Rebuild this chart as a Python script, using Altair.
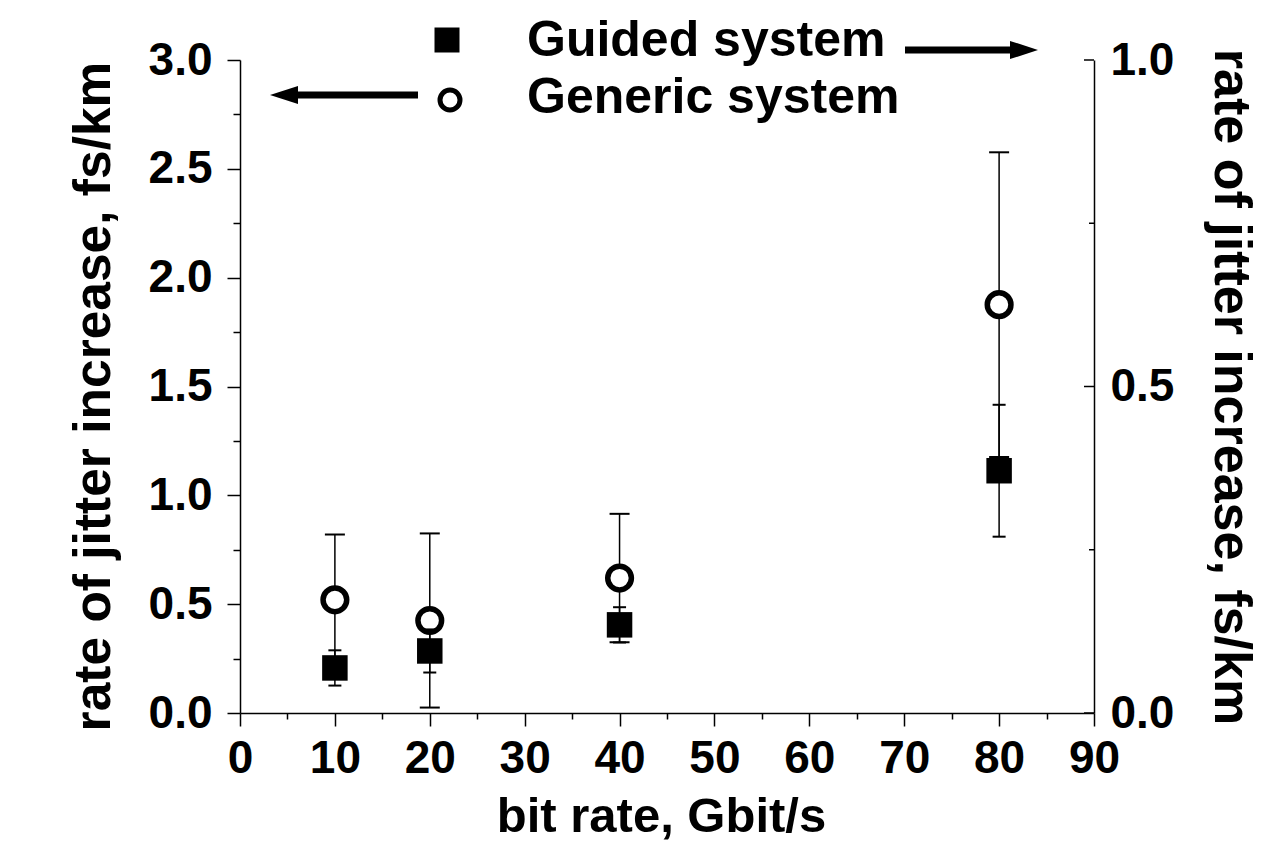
import altair as alt
import pandas as pd

# ---- data ----
bit_rate = [10, 20, 40, 80]
generic_rate = [0.52, 0.425, 0.62, 1.876]      # left axis, fs/km
generic_err = [0.30, 0.40, 0.295, 0.70]
guided_rate = [0.069, 0.095, 0.135, 0.371]     # right axis, fs/km
guided_err = [0.027, 0.033, 0.027, 0.101]

x_ticks = list(range(0, 95, 5))
left_ticks = [i * 0.25 for i in range(13)]
right_major = [0.0, 0.5, 1.0]
right_minor = [0.25, 0.75]
series_names = ["Guided system", "Generic system"]

W, H = 854, 653
FONT = "Liberation Sans"

gen = pd.DataFrame({
    "x": bit_rate,
    "y": generic_rate,
    "lo": [v - e for v, e in zip(generic_rate, generic_err)],
    "hi": [v + e for v, e in zip(generic_rate, generic_err)],
})
gui = pd.DataFrame({
    "x": bit_rate,
    "y": guided_rate,
    "lo": [v - e for v, e in zip(guided_rate, guided_err)],
    "hi": [v + e for v, e in zip(guided_rate, guided_err)],
})
rmaj = pd.DataFrame({"v": right_major})
rmin = pd.DataFrame({"v": right_minor})
leg = pd.DataFrame({"name": series_names})

x_axis = alt.Axis(
    values=x_ticks,
    title="bit rate, Gbit/s",
    titleX=421,
    labelExpr="datum.value % 10 == 0 ? datum.label : ''",
    tickSize={"condition": {"test": "datum.value % 10 == 0", "value": 13}, "value": 6},
    labelPadding=10,
    titlePadding=11,
    labelFlush=False,
    labelOverlap=False,
)
x_scale = alt.Scale(domain=[0, 90], nice=False, zero=False)


def X(field="x"):
    return alt.X(f"{field}:Q", scale=x_scale, axis=x_axis)


left_title = "rate of jitter increase, fs/km"
left_axis = alt.Axis(
    orient="left",
    values=left_ticks,
    title=left_title,
    titleFontSize=51.5,
    titleY=336,
    labelExpr="round(datum.value*4) % 2 == 0 ? format(datum.value, '.1f') : ''",
    tickSize={"condition": {"test": "round(datum.value*4) % 2 == 0", "value": 13}, "value": 7},
    labelPadding=15,
    titlePadding=28,
    labelFlush=False,
    labelOverlap=False,
)
left_scale = alt.Scale(domain=[0, 3], nice=False, zero=False)


def YL(field):
    return alt.Y(f"{field}:Q", scale=left_scale, axis=left_axis)


right_axis = alt.Axis(
    orient="right",
    values=right_major,
    format=".1f",
    title=left_title,
    titleFontSize=52,
    ticks=False,
    labelPadding=16,
    titlePadding=30,
    labelFlush=False,
    labelOverlap=False,
)
right_scale = alt.Scale(domain=[0, 1], nice=False, zero=False)


def YR(field):
    return alt.Y(f"{field}:Q", scale=right_scale, axis=right_axis)


# ---- generic system (left axis) ----
g_bar = alt.Chart(gen).mark_rule(color="black", strokeWidth=1.5).encode(
    x=X(), y=YL("lo"), y2="hi:Q")
g_cap_lo = alt.Chart(gen).mark_tick(orient="horizontal", size=20, thickness=2, color="black", opacity=1).encode(
    x=X(), y=YL("lo"))
g_cap_hi = alt.Chart(gen).mark_tick(orient="horizontal", size=20, thickness=2, color="black", opacity=1).encode(
    x=X(), y=YL("hi"))
g_pts = alt.Chart(gen).mark_point(shape="circle", size=560, filled=True, fill="white",
                                  stroke="black", strokeWidth=5.5, opacity=1).encode(
    x=X(), y=YL("y"))
left_layer = alt.layer(g_bar, g_cap_lo, g_cap_hi, g_pts)

# ---- guided system (right axis) ----
u_bar = alt.Chart(gui).mark_rule(color="black", strokeWidth=1.5).encode(
    x=X(), y=YR("lo"), y2="hi:Q")
u_cap_lo = alt.Chart(gui).mark_tick(orient="horizontal", size=13, thickness=2, color="black", opacity=1).encode(
    x=X(), y=YR("lo"))
u_cap_hi = alt.Chart(gui).mark_tick(orient="horizontal", size=13, thickness=2, color="black", opacity=1).encode(
    x=X(), y=YR("hi"))
u_pts = alt.Chart(gui).mark_point(shape="square", size=650, filled=True, color="black", opacity=1).encode(
    x=X(), y=YR("y"))
r_maj = alt.Chart(rmaj).mark_rule(color="black", strokeWidth=1.5).encode(
    y=YR("v"), x=alt.value(W - 10), x2=alt.value(W))
r_min = alt.Chart(rmin).mark_rule(color="black", strokeWidth=1.5).encode(
    y=YR("v"), x=alt.value(W - 5), x2=alt.value(W))

# ---- legend with arrows ----
leg_sq = alt.Chart(leg).transform_filter("datum.name == 'Guided system'").mark_point(
    shape="square", size=625, filled=True, color="black", opacity=1).encode(
    x=alt.value(207), y=alt.value(-20))
leg_ci = alt.Chart(leg).transform_filter("datum.name == 'Generic system'").mark_point(
    shape="circle", size=400, filled=True, fill="white", stroke="black", strokeWidth=5, opacity=1).encode(
    x=alt.value(210), y=alt.value(40))
leg_t1 = alt.Chart(leg).transform_filter("datum.name == 'Guided system'").mark_text(
    align="left", baseline="alphabetic", font=FONT, fontSize=50, fontWeight="bold", color="black").encode(
    text="name:N", x=alt.value(287), y=alt.value(-4))
leg_t2 = alt.Chart(leg).transform_filter("datum.name == 'Generic system'").mark_text(
    align="left", baseline="alphabetic", font=FONT, fontSize=50, fontWeight="bold", color="black").encode(
    text="name:N", x=alt.value(287), y=alt.value(53))
arr_r = alt.Chart(leg).transform_filter("datum.name == 'Guided system'").mark_rule(
    color="black", strokeWidth=7).encode(x=alt.value(665), x2=alt.value(784), y=alt.value(-10))
arr_rh = alt.Chart(leg).transform_filter("datum.name == 'Guided system'").mark_point(
    shape="M 1 0 L -1 -0.65 L -1 0.65 Z", size=784, filled=True, color="black", opacity=1).encode(
    x=alt.value(784), y=alt.value(-10))
arr_l = alt.Chart(leg).transform_filter("datum.name == 'Generic system'").mark_rule(
    color="black", strokeWidth=7).encode(x=alt.value(44), x2=alt.value(178), y=alt.value(35))
arr_lh = alt.Chart(leg).transform_filter("datum.name == 'Generic system'").mark_point(
    shape="M -1 0 L 1 -0.65 L 1 0.65 Z", size=784, filled=True, color="black", opacity=1).encode(
    x=alt.value(44), y=alt.value(35))

right_layer = alt.layer(u_bar, u_cap_lo, u_cap_hi, u_pts, r_maj, r_min,
                        leg_sq, leg_ci, leg_t1, leg_t2, arr_r, arr_rh, arr_l, arr_lh)

chart = alt.layer(left_layer, right_layer).resolve_scale(y="independent").properties(
    width=W, height=H,
    autosize=alt.AutoSizeParams(type="none"),
    padding={"left": 232, "top": 52, "right": 176, "bottom": 127},
    background="white",
).configure_view(stroke=None).configure_axis(
    labelFont=FONT, titleFont=FONT,
    labelFontSize=46, titleFontSize=49,
    labelFontWeight="bold", titleFontWeight="bold",
    labelColor="black", titleColor="black",
    domainColor="black", domainWidth=1.5,
    tickColor="black", tickWidth=1.5,
    grid=False,
)

chart.save("out.html", embed_options={"renderer": "svg", "actions": False})
